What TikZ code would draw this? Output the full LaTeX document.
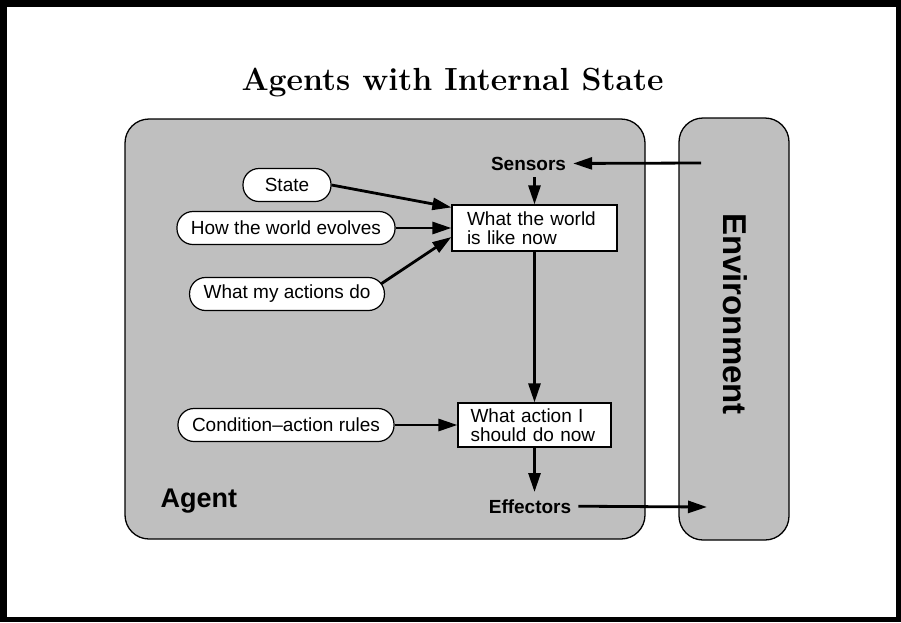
\documentclass[tikz,border=0pt]{standalone}
\usepackage{fontspec}
\setsansfont{Liberation Sans}
\usepackage{tikz}
\usetikzlibrary{calc,arrows.meta}
\definecolor{panelfill}{RGB}{191,191,191}
\definecolor{framedark}{RGB}{0,0,0}

\begin{document}
\begin{tikzpicture}[x=1pt,y=-1pt,
  panel/.style={draw=black, line width=1.3pt, fill=panelfill, rounded corners=24pt},
  memory/.style={draw=black, line width=1.2pt, fill=white, rounded corners=16pt,
    minimum height=33pt, inner xsep=14pt, font=\fontsize{19}{20}\selectfont\sffamily},
  module/.style={draw=black, line width=1.2pt, fill=white, align=left,
    inner xsep=15pt, inner ysep=4pt, font=\fontsize{19}{19.5}\selectfont\sffamily},
  port/.style={font=\fontsize{19}{20}\selectfont\sffamily\bfseries, inner sep=7pt},
  flow/.style={line width=2.8pt, -{Triangle[length=19pt,width=12pt]}}]
% Page frame: thick black border, picture measured in pixels (y down)
\useasboundingbox (0,0) rectangle (901,622);
\fill[framedark] (0,0) rectangle (901,622);
\fill[white] (7,7) rectangle (896,617);
% Title
\node[font=\fontsize{32}{36}\selectfont\bfseries, anchor=base] (title)
  at (452.5,90) {Agents with Internal State};
% Agent and environment panels
\draw[panel] (125,119) rectangle (645,539);
\draw[panel] (679,118) rectangle (789,540);
\node[font=\fontsize{27}{30}\selectfont\sffamily\bfseries, anchor=base west] (agentlabel)
  at (157,507) {Agent};
\node[font=\fontsize{33}{36}\selectfont\sffamily\bfseries, rotate=-90] (envlabel)
  at (735,314) {Environment};
% Knowledge the agent keeps
\node[memory, minimum width=88pt] (state) at (287,185) {State};
\node[memory] (evolves) at (286,228) {How the world evolves};
\node[memory] (actions) at (287,294) {What my actions do};
\node[memory] (rules) at (286,425) {Condition--action rules};
% Internal modules
\node[module, text width=135pt, minimum height=46pt] (world) at (534.5,228)
  {What the world\\is like now};
\node[module, text width=128pt, inner xsep=12.5pt, minimum height=44pt] (action)
  at (534.5,425) {What action I\\should do now};
% Sensors and effectors
\node[port, anchor=base] (sensors) at (528.5,170) {Sensors};
\node[port, anchor=base] (effectors) at (530,513) {Effectors};
\coordinate (envin) at (701,163);
\coordinate (envout) at (707,507);
% Connectors
\draw[flow] (envin) -- (sensors.east);
\draw[flow] (sensors.south -| world.north) -- (world.north);
\draw[flow] (state.east) -- ([yshift=-3pt]world.north west);
\draw[flow] (evolves.east) -- (world.west);
\draw[flow] ([xshift=-4pt,yshift=-7pt]actions.north east) -- ([yshift=-9pt]world.west);
\draw[flow] (world.south) -- (action.north);
\draw[flow] (rules.east) -- (action.west);
\draw[flow] (action.south) -- (action.south |- effectors.north);
\draw[flow] (effectors.east) -- (envout);
\end{tikzpicture}
\end{document}
